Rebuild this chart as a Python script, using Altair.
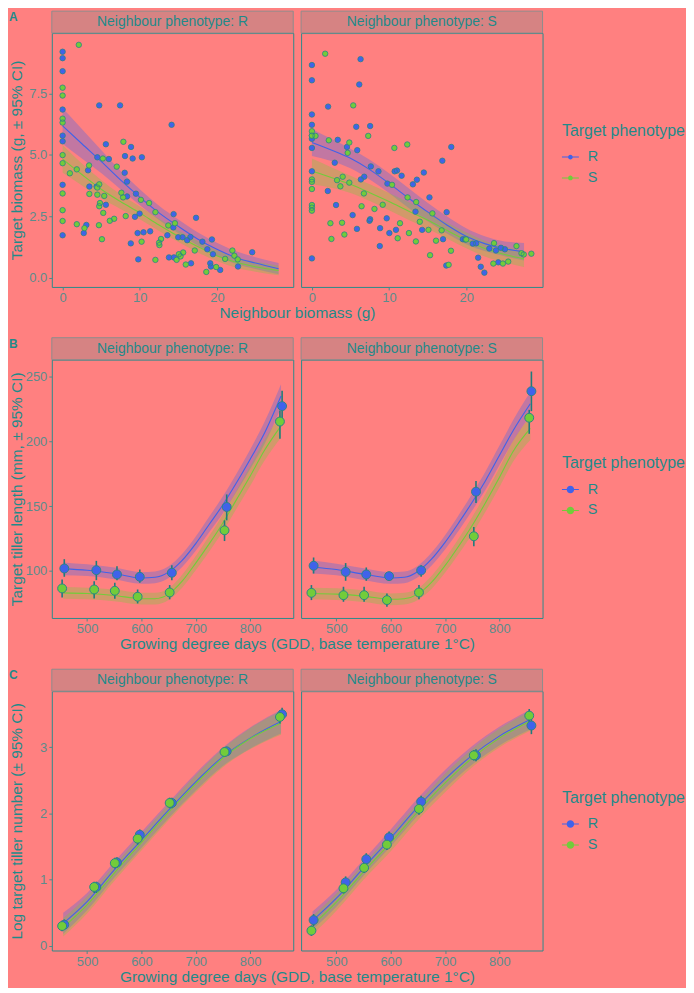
import altair as alt
import pandas as pd

PHENO = ["R", "S"]

# ---------------- Panel A: scatter (neighbour biomass vs target biomass) ----------------
# Neighbour phenotype R, target R
aRR_x = [0, 0, 0, 0, 0, 0, 0, 0, 4.75, 7.45, 14.13, 5.61, 8.87, 8.09, 4.50, 6.0, 9.08, 10.28,
         3.30, 8.05, 8.35, 3.47, 4.41, 8.35, 9.51, 5.61, 14.39, 17.30, 9.98, 9.38, 14.35, 13.58,
         14.99, 15.55, 16.57, 16.15, 19.36, 18.12, 3.08, 2.74, 9.72, 10.49, 11.35, 8.84, 9.81,
         13.79, 14.43, 18.76, 19.49, 16.65, 19.14, 19.23, 20.43, 22.74, 24.58]
aRR_y = [9.19, 8.93, 8.40, 6.84, 5.78, 5.55, 3.78, 1.73, 7.01, 7.01, 6.22, 5.43, 5.32, 4.95, 4.90,
         4.83, 4.85, 4.90, 4.37, 4.27, 3.91, 3.71, 3.71, 3.31, 3.42, 2.97, 2.59, 2.44, 2.61, 2.48,
         2.05, 1.73, 1.65, 1.65, 1.66, 1.53, 1.56, 1.47, 2.15, 1.82, 1.82, 1.85, 1.89, 1.40, 0.75,
         0.83, 0.83, 1.16, 0.96, 0.59, 0.59, 0.46, 0.32, 0.46, 1.04]
# Neighbour R, target S
aRS_x = [2.10, 0, 0, 0, 0, 0, 0, 0, 0, 0, 0.94, 1.84, 3.43, 5.22, 7.02, 7.88, 7.62, 7.84, 3.47,
         4.50, 5.40, 4.75, 4.50, 4.84, 4.75, 5.27, 6.12, 6.68, 8.18, 10.15, 11.22, 12.03, 1.84,
         2.83, 4.71, 5.10, 10.24, 12.03, 12.51, 12.55, 12.76, 13.70, 14.56, 14.78, 15.07, 15.29,
         15.63, 15.97, 17.13, 18.63, 19.91, 21.07, 22.01, 22.27, 22.70]
aRS_y = [9.47, 7.73, 7.41, 6.47, 6.31, 4.99, 4.66, 3.43, 2.75, 2.31, 4.25, 4.41, 4.57, 4.85, 4.52,
         5.53, 3.46, 3.27, 3.41, 3.38, 3.33, 3.80, 3.67, 3.04, 2.91, 2.64, 2.32, 2.40, 2.51, 3.17,
         3.04, 2.67, 2.18, 2.02, 2.14, 1.57, 1.47, 0.73, 1.43, 1.33, 1.58, 2.13, 2.22, 0.73, 0.96,
         0.87, 1.03, 0.54, 1.11, 0.24, 0.44, 0.77, 1.11, 0.90, 0.75]
# Neighbour S, target R
aSR_x = [0, 0, 0, 0, 0, 0, 0, 0, 0, 6.31, 6.14, 2.10, 5.75, 7.55, 3.35, 4.55, 5.88, 18.07, 16.91,
         2.96, 7.64, 8.63, 10.73, 11.03, 11.63, 14.51, 13.61, 13.09, 6.35, 6.78, 9.79, 2.06, 15.24,
         3.13, 13.43, 17.47, 5.28, 9.70, 7.55, 7.47, 5.84, 8.84, 10.04, 10.90, 14.29, 17.00, 19.57,
         19.87, 20.86, 21.29, 23.00, 23.86, 24.51, 25.02, 8.80, 21.55, 21.89, 22.36, 24.16, 17.42]
aSR_y = [8.65, 8.03, 6.64, 6.22, 5.78, 5.65, 5.28, 4.33, 0.79, 8.89, 7.86, 6.96, 6.14, 6.17, 5.61,
         5.32, 5.19, 5.32, 4.76, 4.68, 4.53, 4.33, 4.33, 4.36, 4.15, 4.28, 3.99, 3.80, 4.00, 4.11,
         3.83, 3.53, 3.27, 2.96, 2.69, 2.67, 2.55, 2.42, 2.38, 2.32, 1.99, 2.02, 1.82, 1.95, 1.95,
         1.57, 1.57, 1.56, 1.39, 1.40, 1.19, 1.11, 1.22, 1.16, 1.29, 0.82, 0.45, 0.21, 0.63, 0.50]
# Neighbour S, target S
aSS_x = [1.72, 5.36, 7.30, 0, 0, 0.47, 2.19, 4.85, 4.64, 10.69, 12.36, 0, 0, 0, 0, 0, 0, 3.26,
         3.99, 3.69, 4.85, 10.39, 6.74, 9.18, 8.11, 6.44, 12.40, 13.52, 15.62, 3.91, 2.40, 11.42,
         13.99, 12.58, 11.12, 13.48, 15.11, 16.82, 16.09, 4.21, 2.53, 18.03, 15.32, 17.73, 20.0,
         23.61, 23.52, 24.76, 25.45, 26.52, 27.17, 27.47, 28.45]
aSS_y = [9.11, 7.01, 5.77, 5.96, 5.78, 5.77, 5.59, 5.50, 5.08, 5.28, 5.42, 4.00, 3.90, 3.61, 2.96,
         2.85, 2.73, 3.97, 4.11, 3.72, 3.87, 3.78, 3.43, 2.97, 2.80, 2.91, 3.27, 3.08, 2.62, 2.24,
         2.22, 2.22, 2.28, 1.82, 1.61, 1.48, 1.95, 1.93, 1.51, 1.76, 1.58, 1.10, 0.92, 0.53, 1.56,
         1.41, 0.58, 0.58, 0.66, 1.29, 1.00, 0.95, 0.98]

# Fitted curves, panel A
aR_grid = [0, 2.5, 5, 7.5, 10, 12.5, 15, 17.5, 20, 22.5, 25, 28]
aRR_fit = [6.18, 5.45, 4.73, 3.98, 3.28, 2.64, 2.09, 1.58, 1.16, 0.82, 0.60, 0.37]
aRR_hi = [6.90, 6.05, 5.20, 4.35, 3.60, 2.93, 2.37, 1.85, 1.43, 1.08, 0.84, 0.60]
aRR_lo = [5.45, 4.85, 4.26, 3.60, 2.96, 2.35, 1.81, 1.31, 0.89, 0.56, 0.36, 0.15]
aRS_fit = [4.83, 4.20, 3.60, 3.10, 2.64, 2.15, 1.69, 1.27, 0.90, 0.63, 0.45, 0.30]
aRS_hi = [5.40, 4.65, 3.98, 3.40, 2.90, 2.40, 1.92, 1.50, 1.12, 0.85, 0.65, 0.50]
aRS_lo = [4.27, 3.75, 3.22, 2.80, 2.38, 1.90, 1.46, 1.04, 0.68, 0.41, 0.25, 0.10]
aS_grid = [0, 2.5, 5, 7.5, 10, 12.5, 15, 17.5, 20, 22.5, 25, 27.5]
aSR_fit = [5.50, 5.20, 4.86, 4.40, 3.84, 3.25, 2.68, 2.15, 1.69, 1.38, 1.18, 1.06]
aSR_hi = [6.05, 5.65, 5.25, 4.80, 4.25, 3.65, 3.05, 2.50, 2.02, 1.68, 1.48, 1.42]
aSR_lo = [4.95, 4.75, 4.45, 4.00, 3.45, 2.85, 2.30, 1.80, 1.37, 1.08, 0.88, 0.70]
aSS_fit = [4.33, 4.08, 3.80, 3.46, 3.10, 2.72, 2.35, 1.93, 1.53, 1.18, 0.95, 0.77]
aSS_hi = [4.85, 4.50, 4.15, 3.80, 3.45, 3.08, 2.68, 2.25, 1.85, 1.50, 1.27, 1.10]
aSS_lo = [3.80, 3.66, 3.45, 3.12, 2.75, 2.36, 2.00, 1.60, 1.20, 0.86, 0.63, 0.44]

# ---------------- Panels B and C: means +/- 95% CI over growing degree days ----------------
gdd_R = [458, 517, 555, 597, 656, 757, 859]
gdd_S = [454, 513, 551, 593, 652, 753, 855]

# B: tiller length
bRR_m = [101.8, 100.5, 97.2, 95.4, 98.5, 149.3, 227.2]
bRR_lo = [95.4, 92.8, 92.8, 90.8, 92.8, 139.0, 216.0]
bRR_hi = [109.0, 107.7, 103.6, 101.0, 104.4, 159.0, 239.0]
bRS_m = [86.4, 85.6, 84.6, 80.0, 83.3, 131.3, 215.3]
bRS_lo = [79.5, 78.7, 78.4, 74.8, 78.0, 123.0, 202.0]
bRS_hi = [93.3, 92.0, 90.7, 85.6, 89.0, 139.0, 223.8]
bSR_m = [103.9, 99.2, 97.2, 95.9, 100.3, 161.1, 238.7]
bSR_lo = [97.9, 92.3, 92.3, 92.3, 95.4, 152.4, 223.3]
bSR_hi = [110.3, 106.0, 102.6, 99.2, 104.4, 169.4, 253.9]
bSS_m = [83.0, 81.2, 81.2, 77.4, 83.3, 126.7, 218.2]
bSS_lo = [77.4, 76.1, 76.1, 72.3, 78.0, 119.0, 205.8]
bSS_hi = [89.0, 87.7, 87.7, 82.5, 89.0, 133.9, 224.3]

b_grid = [456, 500, 550, 600, 625, 650, 675, 700, 725, 750, 775, 800, 825, 857]
bRR_fit = [101.5, 100.5, 98.0, 94.5, 95.0, 99.0, 108.0, 121.0, 136.0, 151.0, 168.0, 186.0, 205.0, 235.0]
bRR_fhi = [106.5, 105.0, 102.5, 99.0, 99.5, 103.5, 113.0, 126.5, 142.0, 157.5, 175.0, 193.5, 213.5, 244.0]
bRR_flo = [96.5, 96.0, 93.5, 90.0, 90.5, 94.5, 103.0, 115.5, 130.0, 144.5, 161.0, 178.5, 196.5, 226.0]
bRS_fit = [83.0, 82.5, 81.0, 78.5, 78.5, 82.0, 92.0, 106.0, 121.0, 137.0, 155.0, 173.0, 192.0, 212.0]
bRS_fhi = [87.5, 87.0, 85.5, 83.0, 83.0, 86.5, 97.0, 111.5, 127.0, 143.5, 162.0, 180.5, 200.0, 221.0]
bRS_flo = [78.5, 78.0, 76.5, 74.0, 74.0, 77.5, 87.0, 100.5, 115.0, 130.5, 148.0, 165.5, 184.0, 203.0]
bSR_fit = [103.0, 101.0, 97.5, 94.5, 95.0, 99.5, 109.0, 122.0, 137.0, 153.0, 170.0, 189.0, 208.0, 229.0]
bSR_fhi = [108.0, 105.5, 102.0, 99.0, 99.5, 104.0, 114.0, 127.5, 143.0, 159.5, 177.0, 196.5, 216.0, 238.0]
bSR_flo = [98.0, 96.5, 93.0, 90.0, 90.5, 95.0, 104.0, 116.5, 131.0, 146.5, 163.0, 181.5, 200.0, 220.0]
bSS_fit = [82.5, 82.0, 80.5, 78.0, 78.5, 82.0, 91.0, 104.0, 119.0, 135.0, 153.0, 172.0, 192.0, 210.0]
bSS_fhi = [87.0, 86.5, 85.0, 82.5, 83.0, 86.5, 96.0, 109.5, 125.0, 141.5, 160.0, 179.5, 200.0, 219.0]
bSS_flo = [78.0, 77.5, 76.0, 73.5, 74.0, 77.5, 86.0, 98.5, 113.0, 128.5, 146.0, 164.5, 184.0, 201.0]

# C: log tiller number
cRR_m = [0.32, 0.89, 1.26, 1.68, 2.16, 2.94, 3.50]
cRR_lo = [0.25, 0.80, 1.18, 1.60, 2.08, 2.87, 3.40]
cRR_hi = [0.40, 0.97, 1.34, 1.76, 2.24, 3.01, 3.60]
cRS_m = [0.30, 0.89, 1.25, 1.62, 2.16, 2.93, 3.46]
cRS_lo = [0.22, 0.80, 1.17, 1.53, 2.08, 2.86, 3.36]
cRS_hi = [0.38, 0.97, 1.33, 1.70, 2.24, 3.00, 3.56]
cSR_m = [0.39, 0.96, 1.31, 1.64, 2.18, 2.88, 3.33]
cSR_lo = [0.30, 0.87, 1.22, 1.55, 2.09, 2.79, 3.20]
cSR_hi = [0.48, 1.05, 1.40, 1.73, 2.27, 2.97, 3.46]
cSS_m = [0.23, 0.87, 1.18, 1.53, 2.07, 2.88, 3.48]
cSS_lo = [0.15, 0.79, 1.10, 1.45, 1.98, 2.80, 3.38]
cSS_hi = [0.31, 0.95, 1.26, 1.61, 2.16, 2.96, 3.58]

c_grid = [456, 500, 550, 600, 650, 700, 750, 800, 857]
cRR_fit = [0.34, 0.67, 1.15, 1.60, 2.05, 2.48, 2.86, 3.14, 3.39]
cRR_fhi = [0.50, 0.80, 1.27, 1.72, 2.17, 2.61, 3.00, 3.30, 3.57]
cRR_flo = [0.18, 0.54, 1.03, 1.48, 1.93, 2.35, 2.72, 2.98, 3.21]
cRS_fit = [0.28, 0.62, 1.10, 1.56, 2.02, 2.45, 2.84, 3.13, 3.37]
cRS_fhi = [0.42, 0.75, 1.22, 1.68, 2.14, 2.58, 2.98, 3.29, 3.55]
cRS_flo = [0.14, 0.49, 0.98, 1.44, 1.90, 2.32, 2.70, 2.97, 3.19]
cSR_fit = [0.38, 0.72, 1.18, 1.63, 2.10, 2.52, 2.88, 3.17, 3.42]
cSR_fhi = [0.52, 0.85, 1.30, 1.76, 2.23, 2.66, 3.02, 3.31, 3.57]
cSR_flo = [0.24, 0.59, 1.06, 1.50, 1.97, 2.38, 2.74, 3.03, 3.27]
cSS_fit = [0.31, 0.66, 1.12, 1.56, 2.03, 2.46, 2.84, 3.14, 3.40]
cSS_fhi = [0.45, 0.79, 1.24, 1.69, 2.16, 2.60, 2.98, 3.28, 3.55]
cSS_flo = [0.17, 0.53, 1.00, 1.43, 1.90, 2.32, 2.70, 3.00, 3.25]

# ---------------- styling ----------------
BG = "#FF8080"
TEAL = "#1F8A8A"
LABEL = "#5C8C8C"
TICK = "#4A8A8A"
BORDER = "#2B8A8A"
STRIP_FILL = "#D68383"
STRIP_STROKE = "#8E8C8C"
BLUE = "#4062EA"
GREEN = "#72CC3A"
ERR = "#1E7C7C"
RING = "#2A8585"
FONT = "Liberation Sans"

W = 242.5
GAP = 7.4


def pts_df(xs, ys, p):
    return pd.DataFrame({"x": xs, "y": ys, "pheno": p})


def fit_df(xs, fit, lo, hi, p):
    return pd.DataFrame({"x": xs, "fit": fit, "lo": lo, "hi": hi, "pheno": p})


def bar_df(xs, m, lo, hi, p):
    return pd.DataFrame({"x": xs, "y": m, "lo": lo, "hi": hi, "pheno": p})


def symbol_path(r):
    return ("M-1,-0.06L1,-0.06L1,0.06L-1,0.06Z"
            f"M-{r},0A{r},{r} 0 0,1 {r},0A{r},{r} 0 0,1 -{r},0Z")


def panel(first, H, strip, letter, xdom, xvals, xtitle, ydom, yvals, yfmt, ytitle,
          ptsR, ptsS, fitR, fitS, size, ring_w, legend_y, circ_r, bars=None):
    xkw = dict(values=xvals)
    if first:
        xkw.update(title=xtitle, titleX=W + GAP / 2, titleAlign="center")
    else:
        xkw.update(title=None)
    xs = alt.Scale(domain=xdom, nice=False, zero=False)
    ys = alt.Scale(domain=ydom, nice=False, zero=False)
    xaxis = alt.Axis(**xkw)
    if first:
        ykw = dict(values=yvals, title=ytitle, titleX=-35.5, titleY=H / 2,
                   titleAlign="center", titleBaseline="middle")
        if yfmt:
            ykw["format"] = yfmt
        yaxis = alt.Axis(**ykw)
    else:
        yaxis = None

    def X(f):
        return alt.X(f, type="quantitative", scale=xs, axis=xaxis)

    def Y(f):
        return alt.Y(f, type="quantitative", scale=ys, axis=yaxis)

    cscale = alt.Scale(domain=PHENO, range=[BLUE, GREEN])
    if first:
        leg = None
    else:
        leg = alt.Legend(title="Target phenotype", orient="none", legendX=262, legendY=legend_y,
                         symbolType=symbol_path(circ_r), symbolSize=289, symbolStrokeWidth=0,
                         symbolOpacity=1, titleFont=FONT, titleFontSize=16,
                         titleFontWeight="normal", titleColor=TEAL, labelFont=FONT,
                         labelFontSize=14.5, labelColor=TEAL, labelOffset=9, rowPadding=6,
                         titlePadding=10, padding=0)
    # same legend spec on every colour encoding of the panel so the merged legend stays enabled
    col = alt.Color("pheno:N", scale=cscale, legend=leg)

    fits = pd.concat([fitR, fitS], ignore_index=True)
    layers = [
        alt.Chart(fits).mark_area(opacity=0.32, interpolate="monotone").encode(
            x=X("x"), y=Y("lo"), y2="hi", color=col),
        alt.Chart(fits).mark_line(strokeWidth=1.1, interpolate="monotone").encode(
            x=X("x"), y=Y("fit"), color=col),
    ]
    if bars is not None:
        layers.append(alt.Chart(bars).mark_rule(color=ERR, strokeWidth=1.6).encode(
            x=X("x"), y=Y("lo"), y2="hi"))
    for pdf in (ptsR, ptsS):
        layers.append(alt.Chart(pdf).mark_circle(size=size, opacity=1).encode(
            x=X("x"), y=Y("y"), color=col))
        layers.append(alt.Chart(pdf).mark_point(size=size, filled=False, color=RING,
                                                strokeWidth=ring_w, opacity=1).encode(
            x=X("x"), y=Y("y")))
    sdf = pd.DataFrame({"label": [strip]})
    layers.append(alt.Chart(sdf).mark_rect(fill=STRIP_FILL, stroke=STRIP_STROKE,
                                           strokeWidth=1).encode(
        x=alt.value(0), x2=alt.value(W), y=alt.value(-22), y2=alt.value(0)))
    layers.append(alt.Chart(sdf).mark_text(font=FONT, fontSize=14, color=TEAL,
                                           baseline="middle", align="center").encode(
        x=alt.value(W / 2), y=alt.value(-11), text="label:N"))
    if first:
        ldf = pd.DataFrame({"t": [letter]})
        layers.append(alt.Chart(ldf).mark_text(font=FONT, fontSize=12, fontWeight="bold",
                                               color=TEAL, align="left",
                                               baseline="middle").encode(
            x=alt.value(-43), y=alt.value(-16), text="t:N"))
    else:
        # invisible spacer so that the legend area beside the panel is part of the canvas
        layers.append(alt.Chart(sdf).mark_text(text=".", opacity=0, fontSize=10).encode(
            x=alt.value(W + 138), y=alt.value(H / 2)))
    return alt.layer(*layers).properties(width=W, height=H)


def row(H, letter, xdom, xvals, xtitle, ydom, yvals, yfmt, ytitle, data, size, ring_w,
        legend_y, circ_r):
    charts = []
    for i, nb in enumerate(PHENO):
        d = data[nb]
        charts.append(panel(i == 0, H, f"Neighbour phenotype: {nb}", letter, xdom, xvals, xtitle,
                            ydom, yvals, yfmt, ytitle, d["pR"], d["pS"], d["fR"], d["fS"],
                            size, ring_w, legend_y, circ_r, d.get("bars")))
    return alt.hconcat(*charts, spacing=GAP, bounds="flush").resolve_scale(
        x="independent", y="independent", color="independent").resolve_legend(
        color="independent")


dataA = {
    "R": {"pR": pts_df(aRR_x, aRR_y, "R"), "pS": pts_df(aRS_x, aRS_y, "S"),
          "fR": fit_df(aR_grid, aRR_fit, aRR_lo, aRR_hi, "R"),
          "fS": fit_df(aR_grid, aRS_fit, aRS_lo, aRS_hi, "S")},
    "S": {"pR": pts_df(aSR_x, aSR_y, "R"), "pS": pts_df(aSS_x, aSS_y, "S"),
          "fR": fit_df(aS_grid, aSR_fit, aSR_lo, aSR_hi, "R"),
          "fS": fit_df(aS_grid, aSS_fit, aSS_lo, aSS_hi, "S")},
}


def gdd_data(mRR, loRR, hiRR, mRS, loRS, hiRS, mSR, loSR, hiSR, mSS, loSS, hiSS, grid,
             fRR, flRR, fhRR, fRS, flRS, fhRS, fSR, flSR, fhSR, fSS, flSS, fhSS):
    out = {}
    for nb, (mr, lr, hr, ms, ls, hs, fr, flr, fhr, fs, fls, fhs) in {
        "R": (mRR, loRR, hiRR, mRS, loRS, hiRS, fRR, flRR, fhRR, fRS, flRS, fhRS),
        "S": (mSR, loSR, hiSR, mSS, loSS, hiSS, fSR, flSR, fhSR, fSS, flSS, fhSS),
    }.items():
        out[nb] = {
            "pR": pts_df(gdd_R, mr, "R"), "pS": pts_df(gdd_S, ms, "S"),
            "fR": fit_df(grid, fr, flr, fhr, "R"), "fS": fit_df(grid, fs, fls, fhs, "S"),
            "bars": pd.concat([bar_df(gdd_R, mr, lr, hr, "R"), bar_df(gdd_S, ms, ls, hs, "S")],
                              ignore_index=True),
        }
    return out


dataB = gdd_data(bRR_m, bRR_lo, bRR_hi, bRS_m, bRS_lo, bRS_hi, bSR_m, bSR_lo, bSR_hi,
                 bSS_m, bSS_lo, bSS_hi, b_grid,
                 bRR_fit, bRR_flo, bRR_fhi, bRS_fit, bRS_flo, bRS_fhi,
                 bSR_fit, bSR_flo, bSR_fhi, bSS_fit, bSS_flo, bSS_fhi)
dataC = gdd_data(cRR_m, cRR_lo, cRR_hi, cRS_m, cRS_lo, cRS_hi, cSR_m, cSR_lo, cSR_hi,
                 cSS_m, cSS_lo, cSS_hi, c_grid,
                 cRR_fit, cRR_flo, cRR_fhi, cRS_fit, cRS_flo, cRS_fhi,
                 cSR_fit, cSR_flo, cSR_fhi, cSS_fit, cSS_flo, cSS_fhi)

GDD_TITLE = "Growing degree days (GDD, base temperature 1\u00b0C)"

rowA = row(255, "A", [-1.4, 29.9], [0, 10, 20], "Neighbour biomass (g)", [-0.37, 9.95],
           [0, 2.5, 5, 7.5], ".1f", "Target biomass (g, \u00b1 95% CI)", dataA, 30, 0.8, 90, 0.28)
rowB = row(259.5, "B", [435, 879.5], [500, 600, 700, 800], GDD_TITLE, [63.6, 263.1],
           [100, 150, 200, 250], None, "Target tiller length (mm, \u00b1 95% CI)", dataB, 80, 1.0,
           96, 0.44)
rowC = row(260.5, "C", [435, 879.5], [500, 600, 700, 800], GDD_TITLE, [-0.07, 3.85],
           [0, 1, 2, 3], None, "Log target tiller number (\u00b1 95% CI)", dataC, 80, 1.0, 99, 0.44)

chart = alt.vconcat(rowA, rowB, rowC, spacing=15).resolve_scale(
    x="independent", y="independent", color="independent").resolve_legend(
    color="independent").properties(background=BG, padding=0).configure_view(
    stroke=BORDER, strokeWidth=1).configure_axis(
    labelFont=FONT, titleFont=FONT, labelFontSize=13, titleFontSize=15.5, labelColor=LABEL,
    titleColor=TEAL, tickColor=TICK, tickSize=3, tickWidth=1, domain=False, grid=False,
    labelPadding=2, titleFontWeight="normal", titlePadding=1)

chart.save("out.html", embed_options={"renderer": "svg", "actions": False})
